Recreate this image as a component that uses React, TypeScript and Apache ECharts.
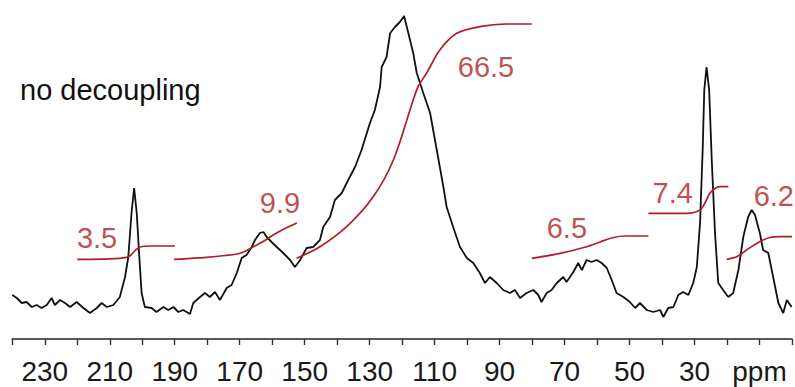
import React, { useEffect, useRef } from "react";
import * as echarts from "echarts";

// Spectrum: chemical shift (ppm) and intensity (arbitrary units)
const spectrumPpm = [
  240, 238.6, 237.1, 235.6, 234.0, 232.5, 231.0, 229.4, 227.9, 226.9, 225.3, 223.8, 222.2, 220.2, 218.1, 216.1,
  214.0, 212.5, 210.9, 208.9, 206.9, 205.3, 204.3, 203.3, 202.5, 201.7, 200.9, 200.2, 199.2, 197.1, 195.6, 193.5,
  192.0, 190.4, 188.9, 187.4, 185.3, 184.3, 182.2, 180.7, 179.2, 177.6, 176.1, 174.0, 172.5, 170.9, 169.4, 167.9,
  166.3, 165.3, 163.8, 162.7, 161.7, 160.2, 158.6, 156.6, 154.5, 153.0, 151.4, 149.4, 147.4, 145.3, 144.3, 142.2,
  140.7, 138.6, 136.6, 134.5, 132.5, 129.9, 128.4, 126.8, 126.3, 124.8, 123.7, 122.2, 120.7, 119.4, 118.1, 116.6,
  115.5, 113.5, 111.4, 109.9, 108.4, 107.3, 106.3, 104.3, 102.2, 100.1, 98.1, 96.1, 94.5, 93.0, 90.9, 88.9,
  86.8, 85.3, 83.7, 81.7, 79.6, 78.1, 77.1, 75.5, 74.0, 72.4, 70.4, 69.4, 67.3, 65.8, 64.7, 63.2,
  61.7, 60.1, 58.6, 57.0, 55.5, 54.0, 51.9, 49.9, 48.3, 46.8, 44.7, 42.7, 40.6, 39.6, 38.1, 36.5,
  35.0, 33.5, 31.9, 30.4, 29.3, 28.3, 27.5, 27.0, 26.3, 25.5, 24.7, 23.7, 22.7, 21.2, 19.6, 18.1,
  16.5, 15.0, 13.5, 12.4, 11.4, 9.9, 8.9, 7.3, 5.8, 4.2, 2.7, 1.6, 0.1,
];
const spectrumIntensity = [
  44, 41, 36, 37, 32, 34, 31, 34, 41, 34, 39, 36, 32, 37, 31, 26,
  31, 36, 32, 34, 42, 62, 82, 126, 151, 126, 82, 46, 32, 31, 27, 32,
  29, 32, 27, 29, 25, 36, 42, 46, 42, 47, 39, 51, 54, 66, 81, 84,
  92, 99, 106, 107, 102, 97, 92, 86, 79, 72, 79, 91, 92, 99, 112, 122,
  139, 146, 159, 172, 189, 216, 229, 252, 272, 282, 306, 312, 317, 323, 306, 286,
  266, 246, 226, 199, 172, 152, 132, 112, 92, 81, 76, 66, 56, 62, 56, 49,
  46, 49, 41, 46, 49, 44, 37, 46, 49, 56, 62, 57, 67, 76, 69, 79,
  77, 79, 76, 71, 59, 46, 42, 37, 31, 36, 29, 27, 29, 22, 31, 32,
  44, 47, 44, 56, 72, 116, 189, 249, 272, 249, 179, 106, 56, 49, 42, 46,
  69, 102, 122, 129, 124, 106, 89, 86, 62, 36, 26, 39, 32,
];

// Integral traces
const int1Ppm = [220.0, 209.9, 204.8, 203.5, 202.5, 201.3, 200.1, 197.6, 189.9];
const int1Val = [79.7, 80.2, 81.7, 84, 87.5, 90.7, 92.5, 93, 93];
const int2Ppm = [190.2, 180.2, 174.5, 169.9, 165.8, 162.8, 159.7, 156.1, 152.4];
const int2Val = [79.7, 81.7, 83.5, 85.7, 92.3, 97.5, 104, 110.5, 116];
const int3Ppm = [152.5, 145.3, 137.1, 128.9, 122.7, 116.6, 115.0, 112.5, 108.4, 103.2, 96.1, 87.8, 80.1];
const int3Val = [80.7, 92.3, 112.3, 142.3, 179, 239, 253, 265.7, 289, 305.7, 312.3, 315, 315];
const int4Ppm = [80.1, 71.4, 63.2, 59.1, 55.0, 51.4, 44.2];
const int4Val = [80.7, 85.7, 92.3, 97, 101.5, 103, 103];
const int5Ppm = [44.2, 32.4, 28.3, 26.8, 25.3, 23.7, 22.2, 19.6];
const int5Val = [125.7, 125.7, 129, 136, 145.7, 150.5, 152.3, 152.3];
const int6Ppm = [20.1, 16.9, 14.0, 11.4, 8.9, 6.8, 3.7, 0];
const int6Val = [79.7, 82.5, 89, 94.5, 99, 101.5, 102.3, 102.3];

// Integral labels
const integralLabels = ["3.5", "9.9", "66.5", "6.5", "7.4", "6.2"];
const labelPpm = [213.9, 157.6, 94.2, 69.3, 36.7, 5.6];
const labelVal = [101, 136, 272, 111, 146, 143];

const titleText = "no decoupling";
const axisUnit = "ppm";

const RED = "#b01e25";
const FONT = "'Liberation Sans', Arial, Helvetica, sans-serif";

function zip(a: number[], b: number[]) {
  return a.map((v, i) => [v, b[i]]);
}

export default function App() {
  const ref = useRef<HTMLDivElement>(null);
  useEffect(() => {
    if (!ref.current) return;
    const chart = echarts.init(ref.current, undefined, { renderer: "svg" });
    const integrals = [
      [int1Ppm, int1Val],
      [int2Ppm, int2Val],
      [int3Ppm, int3Val],
      [int4Ppm, int4Val],
      [int5Ppm, int5Val],
      [int6Ppm, int6Val],
    ];
    chart.setOption({
      animation: false,
      backgroundColor: "#ffffff",
      grid: { left: 12.3, right: 3, top: 0, bottom: 48, containLabel: false },
      xAxis: {
        type: "value",
        inverse: true,
        min: 0,
        max: 240,
        interval: 10,
        axisLine: { show: true, lineStyle: { color: "#222", width: 1.6 } },
        axisTick: { show: true, length: 6, lineStyle: { color: "#333", width: 1.4 } },
        splitLine: { show: false },
        axisLabel: {
          margin: 18,
          fontSize: 28,
          fontFamily: FONT,
          color: "#1a1a1a",
          showMinLabel: true,
          showMaxLabel: true,
          hideOverlap: false,
          formatter: (v: number) => (v === 10 ? axisUnit : v % 20 === 10 ? String(v) : ""),
        },
      },
      yAxis: { type: "value", min: 0, max: 339, show: false },
      graphic: [
        {
          type: "text",
          left: 20,
          top: 75,
          style: { text: titleText, fontSize: 29, fontFamily: FONT, fill: "#111" },
        },
      ],
      series: [
        {
          type: "line",
          data: zip(spectrumPpm, spectrumIntensity),
          showSymbol: false,
          lineStyle: { color: "#111", width: 1.8 },
          z: 3,
        },
        ...integrals.map(([p, v]) => ({
          type: "line",
          data: zip(p, v),
          showSymbol: false,
          smooth: 0.3,
          lineStyle: { color: RED, width: 1.7 },
          z: 4,
        })),
        {
          type: "scatter",
          symbolSize: 0,
          data: labelPpm.map((p, i) => ({ value: [p, labelVal[i]], name: integralLabels[i] })),
          label: {
            show: true,
            position: "inside",
            formatter: (d: any) => d.name,
            fontSize: 29,
            fontFamily: FONT,
            color: RED,
          },
          z: 5,
        },
      ],
    });
    return () => chart.dispose();
  }, []);
  return (
    <div
      ref={ref}
      style={{ position: "absolute", left: 0, top: 0, width: 795, height: 387, background: "#fff" }}
    />
  );
}
